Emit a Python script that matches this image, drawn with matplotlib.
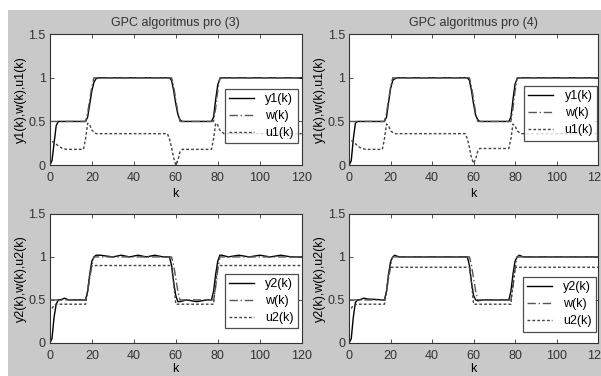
import matplotlib.pyplot as plt
from matplotlib.patches import Rectangle

plt.rcParams['font.family'] = ['Liberation Sans', 'DejaVu Sans']

# ---- data (breakpoints of each curve) ----
titles = ["GPC algoritmus pro (3)", "GPC algoritmus pro (4)"]

# setpoint w(k), same in all panels
k_w = [0, 17, 18, 19, 20, 21, 58, 59, 60, 61, 62, 78, 79, 80, 81, 120]
w = [0.5, 0.5, 0.6, 0.75, 0.9, 1.0, 1.0, 0.9, 0.75, 0.6, 0.5, 0.5, 0.65, 0.85, 1.0, 1.0]

# top left (3)
k_y1a = [0, 1, 2, 3, 4, 5, 17, 18, 19, 20, 21, 22, 23, 57, 58, 59, 60, 61, 62, 63, 77, 78, 79, 80, 81, 82, 120]
y1a = [0, 0.05, 0.25, 0.45, 0.5, 0.5, 0.5, 0.55, 0.7, 0.85, 0.95, 0.99, 1, 1, 0.97, 0.85, 0.7, 0.58, 0.52, 0.5, 0.5, 0.55, 0.75, 0.92, 0.99, 1, 1]
k_u1a = [1, 2, 4, 6, 8, 16, 17, 18, 19, 20, 22, 56, 57, 58, 59, 60, 61, 62, 63, 77, 78, 79, 80, 81, 83, 120]
u1a = [0.27, 0.26, 0.22, 0.19, 0.18, 0.18, 0.3, 0.48, 0.46, 0.4, 0.36, 0.36, 0.3, 0.2, 0.08, 0.0, 0.05, 0.15, 0.18, 0.18, 0.3, 0.48, 0.46, 0.4, 0.36, 0.36]

# top right (4)
k_y1b = [0, 1, 2, 3, 4, 17, 18, 19, 20, 21, 22, 23, 57, 58, 59, 60, 61, 62, 63, 77, 78, 79, 80, 81, 82, 120]
y1b = [0, 0.05, 0.3, 0.48, 0.5, 0.5, 0.55, 0.72, 0.88, 0.97, 0.99, 1, 1, 0.97, 0.85, 0.7, 0.57, 0.52, 0.5, 0.5, 0.55, 0.75, 0.93, 0.99, 1, 1]
k_u1b = [1, 2, 4, 6, 8, 16, 17, 18, 19, 20, 22, 56, 57, 58, 59, 60, 61, 62, 63, 77, 78, 79, 80, 81, 83, 120]
u1b = [0.28, 0.27, 0.22, 0.19, 0.18, 0.18, 0.3, 0.47, 0.45, 0.39, 0.36, 0.36, 0.3, 0.2, 0.08, 0.02, 0.07, 0.16, 0.19, 0.19, 0.3, 0.47, 0.45, 0.39, 0.36, 0.36]

# bottom left (3)
k_y2a = [0, 1, 2, 3, 4, 5, 7, 9, 17, 18, 19, 20, 21, 22, 24, 30, 34, 38, 42, 46, 50, 54, 57, 58, 59, 60, 61, 62, 65, 70, 75, 77, 78, 79, 80, 81, 82, 85, 90, 95, 100, 105, 110, 115, 120]
y2a = [0, 0.05, 0.3, 0.45, 0.5, 0.5, 0.52, 0.5, 0.5, 0.6, 0.8, 0.95, 1.0, 1.02, 1.02, 1.0, 1.02, 1.0, 1.02, 1.0, 1.02, 1.0, 1.0, 0.9, 0.7, 0.55, 0.48, 0.48, 0.5, 0.48, 0.5, 0.5, 0.6, 0.8, 0.95, 1.02, 1.02, 1.0, 1.02, 1.0, 1.02, 1.0, 1.02, 1.0, 1.0]
k_u2a = [1, 2, 3, 17, 18, 19, 20, 58, 59, 60, 78, 79, 80, 120]
u2a = [0.4, 0.44, 0.45, 0.45, 0.6, 0.8, 0.9, 0.9, 0.7, 0.45, 0.45, 0.7, 0.9, 0.9]

# bottom right (4)
k_y2b = [0, 1, 2, 3, 4, 5, 7, 9, 17, 18, 19, 20, 21, 22, 24, 57, 58, 59, 60, 61, 62, 65, 77, 78, 79, 80, 81, 82, 84, 120]
y2b = [0, 0.05, 0.3, 0.47, 0.5, 0.5, 0.52, 0.51, 0.5, 0.6, 0.8, 0.95, 1.0, 1.02, 1.0, 1.0, 0.9, 0.7, 0.55, 0.5, 0.49, 0.5, 0.5, 0.6, 0.8, 0.95, 1.0, 1.02, 1.0, 1.0]
k_u2b = [1, 2, 4, 17, 18, 19, 20, 58, 59, 60, 78, 79, 80, 120]
u2b = [0.4, 0.44, 0.45, 0.45, 0.6, 0.8, 0.88, 0.88, 0.7, 0.45, 0.45, 0.7, 0.88, 0.88]

xticks = [0, 20, 40, 60, 80, 100, 120]
yticks = [0, 0.5, 1, 1.5]
ytick_labels = ["0", "0.5", "1", "1.5"]

panels = [
    (k_y1a, y1a, k_u1a, u1a, "y1(k)", "u1(k)", "y1(k),w(k),u1(k)", titles[0]),
    (k_y1b, y1b, k_u1b, u1b, "y1(k)", "u1(k)", "y1(k),w(k),u1(k)", titles[1]),
    (k_y2a, y2a, k_u2a, u2a, "y2(k)", "u2(k)", "y2(k),w(k),u2(k)", None),
    (k_y2b, y2b, k_u2b, u2b, "y2(k)", "u2(k)", "y2(k),w(k),u2(k)", None),
]

fig = plt.figure(figsize=(6.01, 3.76), dpi=100, facecolor="white")
fig.patches.append(Rectangle((8 / 601, 0), 1, 1 - 10 / 376, transform=fig.transFigure,
                             facecolor="#c9c9c9", edgecolor="none", zorder=-10))

positions = [
    [0.083, 0.561, 0.419, 0.348],
    [0.581, 0.561, 0.414, 0.348],
    [0.083, 0.088, 0.419, 0.343],
    [0.581, 0.088, 0.414, 0.343],
]
leg_anchor = [
    (0.68, 0.17, 0.32, 0.41),
    (0.70, 0.19, 0.30, 0.41),
    (0.68, 0.12, 0.32, 0.41),
    (0.69, 0.09, 0.31, 0.42),
]

for i, (kk, yy, ku, uu, ylab, ulab, ylabel, title) in enumerate(panels):
    ax = fig.add_axes(positions[i])
    ax.plot(kk, yy, color="black", lw=1.0, label=ylab)
    ax.plot(k_w, w, color="#555555", lw=1.0, linestyle=(0, (6, 2, 1, 2)), label="w(k)")
    ax.plot(ku, uu, color="#444444", lw=1.0, linestyle=(0, (2, 1.5)), label=ulab)

    ax.set_xlim(0, 120)
    ax.set_ylim(0, 1.5)
    ax.set_xticks(xticks)
    ax.set_yticks(yticks)
    ax.set_yticklabels(ytick_labels)
    ax.tick_params(direction="in", length=3, width=0.6, labelsize=9,
                   top=True, right=True, colors="#333333")
    ax.tick_params(axis="x", pad=5)
    ax.tick_params(axis="y", pad=3)
    for s in ax.spines.values():
        s.set_linewidth(0.8)
        s.set_color("#333333")
    ax.set_xlabel("k", fontsize=9, labelpad=3 if i < 2 else 0.5)
    ax.set_ylabel(ylabel, fontsize=9, labelpad=1)
    if title:
        ax.set_title(title, fontsize=9, pad=6, color="#333333")

    leg = ax.legend(loc="center", bbox_to_anchor=leg_anchor[i], fontsize=9,
                    frameon=True, fancybox=False, handlelength=2.0,
                    labelspacing=0.4, borderpad=0.35, handletextpad=0.9,
                    borderaxespad=0)
    leg.get_frame().set_edgecolor("#222222")
    leg.get_frame().set_linewidth(0.9)

plt.savefig("out.png", dpi=100, facecolor=fig.get_facecolor())
